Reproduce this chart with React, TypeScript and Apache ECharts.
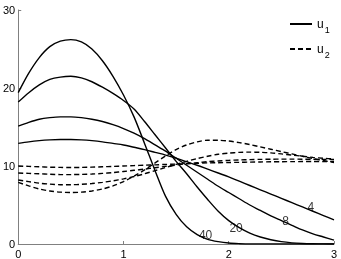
import React, { useEffect, useRef } from "react";
import * as echarts from "echarts";

const xs = [0, 0.1, 0.2, 0.3, 0.4, 0.5, 0.6, 0.7, 0.8, 0.9, 1.0, 1.1, 1.2, 1.3, 1.4, 1.5, 1.6, 1.7, 1.8, 1.9, 2.0, 2.1, 2.2, 2.3, 2.4, 2.5, 2.6, 2.7, 2.8, 2.9, 3.0];

const u1_40 = [19.4, 21.9, 23.9, 25.3, 26.0, 26.2, 25.9, 25.0, 23.5, 21.5, 19.1, 16.3, 12.9, 9.4, 6.1, 3.8, 2.2, 1.2, 0.6, 0.3, 0.12, 0.04, 0, 0, 0, 0, 0, 0, 0, 0, 0];
const u1_20 = [18.2, 19.4, 20.4, 21.1, 21.4, 21.5, 21.3, 20.8, 20.1, 19.3, 18.4, 17.3, 15.7, 14.0, 12.3, 10.6, 9.0, 7.3, 5.7, 4.2, 3.0, 2.1, 1.4, 0.9, 0.55, 0.3, 0.15, 0.07, 0.03, 0.01, 0];
const u1_8 = [15.1, 15.6, 16.0, 16.2, 16.3, 16.3, 16.2, 16.0, 15.7, 15.3, 14.8, 14.2, 13.5, 12.7, 11.9, 11.0, 10.1, 9.2, 8.3, 7.4, 6.6, 5.8, 5.0, 4.3, 3.6, 3.0, 2.4, 1.8, 1.3, 0.9, 0.5];
const u1_4 = [12.9, 13.1, 13.25, 13.35, 13.4, 13.4, 13.35, 13.25, 13.1, 12.9, 12.7, 12.4, 12.1, 11.75, 11.4, 11.0, 10.55, 10.1, 9.6, 9.1, 8.6, 8.05, 7.5, 6.95, 6.4, 5.85, 5.3, 4.75, 4.2, 3.65, 3.1];

const u2_4 = [10.0, 9.95, 9.9, 9.85, 9.82, 9.8, 9.82, 9.85, 9.9, 9.95, 10.0, 10.05, 10.1, 10.15, 10.2, 10.25, 10.3, 10.35, 10.4, 10.42, 10.45, 10.47, 10.5, 10.52, 10.54, 10.55, 10.56, 10.57, 10.58, 10.58, 10.58];
const u2_8 = [9.1, 9.05, 9.0, 8.95, 8.9, 8.9, 8.92, 8.97, 9.05, 9.15, 9.3, 9.45, 9.6, 9.78, 9.95, 10.12, 10.28, 10.42, 10.55, 10.65, 10.72, 10.78, 10.82, 10.85, 10.87, 10.88, 10.88, 10.87, 10.86, 10.85, 10.84];
const u2_20 = [8.2, 8.0, 7.8, 7.68, 7.6, 7.6, 7.65, 7.75, 7.9, 8.1, 8.35, 8.65, 9.0, 9.4, 9.8, 10.2, 10.6, 10.95, 11.25, 11.5, 11.65, 11.75, 11.78, 11.75, 11.68, 11.55, 11.4, 11.25, 11.1, 10.98, 10.9];
const u2_40 = [7.9, 7.45, 7.05, 6.8, 6.65, 6.6, 6.65, 6.8, 7.05, 7.45, 8.0, 8.7, 9.5, 10.4, 11.3, 12.1, 12.7, 13.1, 13.3, 13.3, 13.2, 13.0, 12.75, 12.45, 12.15, 11.85, 11.55, 11.25, 10.95, 10.7, 10.45];

const labelTexts = ["40", "20", "8", "4"];
const labelX = [1.78, 2.07, 2.54, 2.78];
const labelY = [1.2, 2.0, 2.9, 4.7];

const xTicks = [0, 1, 2, 3];
const yTicks = [0, 10, 20, 30];

const pair = (ys: number[]) => xs.map((x, i) => [x, ys[i]]);

export default function App() {
  const ref = useRef<HTMLDivElement>(null);
  useEffect(() => {
    if (!ref.current) return;
    const chart = echarts.init(ref.current, undefined, { renderer: "svg" });
    const font = "Liberation Sans, Arial, Helvetica, sans-serif";
    const solid = [u1_40, u1_20, u1_8, u1_4].map((d) => ({
      name: "u1",
      type: "line",
      data: pair(d),
      smooth: 0.3,
      symbol: "none",
      lineStyle: { color: "#000", width: 1.4, type: "solid" },
      itemStyle: { color: "#000" },
    }));
    const dashed = [u2_40, u2_20, u2_8, u2_4].map((d) => ({
      name: "u2",
      type: "line",
      data: pair(d),
      smooth: 0.3,
      symbol: "none",
      lineStyle: { color: "#000", width: 1.4, type: [5, 3] },
      itemStyle: { color: "#000" },
    }));
    chart.setOption({
      animation: false,
      textStyle: { fontFamily: font },
      grid: { left: 18, right: 7, top: 10, bottom: 15, containLabel: false },
      legend: {
        data: ["u1", "u2"],
        orient: "vertical",
        left: 289,
        top: 18,
        padding: 0,
        itemWidth: 22,
        itemHeight: 12,
        itemGap: 9,
        itemStyle: { opacity: 0 },
        formatter: (n: string) => (n === "u1" ? "{a|u}{b|1}" : "{a|u}{b|2}"),
        textStyle: {
          color: "#000",
          fontFamily: font,
          rich: {
            a: { fontSize: 12, lineHeight: 12, verticalAlign: "top", fontFamily: font, color: "#000" },
            b: { fontSize: 9, lineHeight: 9, verticalAlign: "top", padding: [7, 0, 0, 1], fontFamily: font, color: "#000" },
          },
        },
      },
      xAxis: {
        type: "value",
        min: xTicks[0],
        max: xTicks[xTicks.length - 1],
        interval: 1,
        axisLine: { show: true, lineStyle: { color: "#808080", width: 1 } },
        axisTick: { show: true, inside: true, length: 3, lineStyle: { color: "#808080" } },
        axisLabel: { color: "#000", fontSize: 11, margin: 4, fontFamily: font },
        splitLine: { show: false },
      },
      yAxis: {
        type: "value",
        min: yTicks[0],
        max: yTicks[yTicks.length - 1],
        interval: 10,
        axisLine: { show: true, lineStyle: { color: "#808080", width: 1 } },
        axisTick: { show: true, inside: true, length: 3, lineStyle: { color: "#808080" } },
        axisLabel: { color: "#000", fontSize: 11, margin: 3, fontFamily: font },
        splitLine: { show: false },
      },
      series: [
        ...solid,
        ...dashed,
        {
          name: "labels",
          type: "scatter",
          data: labelTexts.map((t, i) => [labelX[i], labelY[i], t]),
          symbolSize: 1,
          itemStyle: { color: "transparent" },
          silent: true,
          z: 5,
          label: {
            show: true,
            position: "inside",
            formatter: (p: any) => p.value[2],
            color: "#000",
            fontSize: 12,
            fontFamily: font,
          },
        },
      ],
    });
    return () => chart.dispose();
  }, []);
  return <div ref={ref} style={{ position: "fixed", left: 0, top: 0, width: 341, height: 259 }} />;
}
